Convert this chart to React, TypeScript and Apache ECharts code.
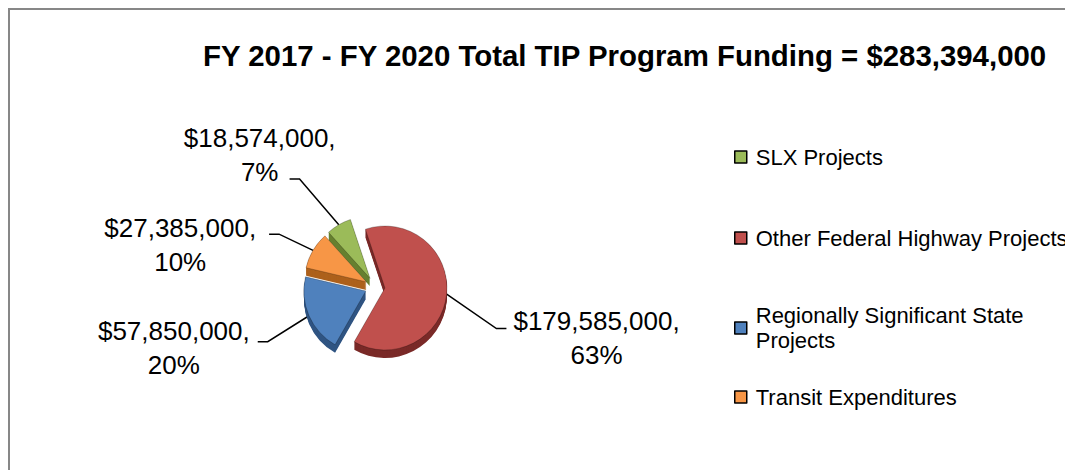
import React, { useEffect, useRef } from 'react';
import * as echarts from 'echarts';

const categories = [
  'SLX Projects',
  'Other Federal Highway Projects',
  'Regionally Significant State Projects',
  'Transit Expenditures',
];
const values = [18574000, 179585000, 57850000, 27385000];
const titleText = 'FY 2017 - FY 2020 Total TIP Program Funding = $283,394,000';
const legendLabels = [
  'SLX Projects',
  'Other Federal Highway Projects',
  'Regionally Significant State\nProjects',
  'Transit Expenditures',
];

const topColors = ['#9BBB59', '#C0504D', '#4F81BD', '#F79646'];
const sideColors = ['#66802f', '#7a2a28', '#2f5482', '#ad611c'];

const FONT = '"Liberation Sans", Arial, sans-serif';
const PIE_CENTER = [365, 277];
const PIE_RADIUS = 62;
const DEPTHS = [8, 7, 6, 5, 4, 3, 2, 1];
// per-slice label leader settings (green, red, blue, orange)
const leaderLen = [68, 45, 45, 22];
const leaderLen2 = [15, 15, 10, 25];
const labelDist = [-46, 7, 8, 13];
const labelPad = [
  [0, 0, 22, 0],
  [78, 0, 0, 0],
  [28, 0, 0, 0],
  [12, 0, 0, 0],
];
// vertical shift of the leader's horizontal end (Excel-style bent leader), per slice
const leaderDrop = [13, 30, 8, -5];
const legendTops = [136, 217, 293, 376];

export default function App() {
  const ref = useRef<HTMLDivElement>(null);
  useEffect(() => {
    const chart = echarts.init(ref.current!, null, { renderer: 'svg' });

    const depthSeries = DEPTHS.map((d) => ({
      type: 'pie',
      center: [PIE_CENTER[0], PIE_CENTER[1] + d],
      radius: PIE_RADIUS,
      startAngle: 132,
      clockwise: true,
      selectedMode: 'multiple',
      selectedOffset: 10,
      silent: true,
      avoidLabelOverlap: false,
      label: { show: false },
      labelLine: { show: false },
      emphasis: { disabled: true },
      data: categories.map((name, i) => ({
        name,
        value: values[i],
        selected: true,
        itemStyle: { color: sideColors[i] },
      })),
    }));

    const topSeries = {
      type: 'pie',
      center: PIE_CENTER,
      radius: PIE_RADIUS,
      startAngle: 132,
      clockwise: true,
      selectedMode: 'multiple',
      selectedOffset: 10,
      avoidLabelOverlap: false,
      labelLayout: (p: any) => {
        const drop = leaderDrop[p.dataIndex];
        const pts = p.labelLinePoints;
        if (!pts || pts.length < 3) return { hideOverlap: false };
        const sgn = pts[2][0] >= pts[1][0] ? 1 : -1;
        return {
          hideOverlap: false,
          labelLinePoints: [
            [pts[0][0], pts[0][1]],
            [pts[2][0] - sgn * 10, pts[2][1] + drop],
            [pts[2][0], pts[2][1] + drop],
          ],
        };
      },
      emphasis: { disabled: true },
      itemStyle: { borderColor: 'rgba(0,0,0,0.3)', borderWidth: 0.8 },
      label: {
        show: true,
        position: 'outside',
        fontSize: 26,
        lineHeight: 34,
        color: '#000',
        fontFamily: FONT,
        formatter: (p: any) =>
          '{c|$' + Number(p.value).toLocaleString('en-US') + ',}\n{c|' + Math.round(p.percent) + '%}',
        rich: {
          c: { align: 'center', fontSize: 26, lineHeight: 34, color: '#000', fontFamily: FONT },
        },
      },
      labelLine: {
        show: true,
        smooth: false,
        lineStyle: { color: '#000', width: 1.5 },
      },
      data: categories.map((name, i) => ({
        name,
        value: values[i],
        selected: true,
        itemStyle: { color: topColors[i] },
        label: { distanceToLabelLine: labelDist[i], padding: labelPad[i] },
        labelLine: { length: leaderLen[i], length2: leaderLen2[i] },
      })),
    };

    const legends = categories.map((name, i) => ({
      orient: 'vertical',
      left: 724,
      top: legendTops[i],
      padding: 0,
      itemWidth: 12,
      itemHeight: 12,
      icon: 'rect',
      selectedMode: false,
      formatter: () => legendLabels[i],
      textStyle: {
        fontSize: 22,
        color: '#000',
        fontFamily: FONT,
        lineHeight: i === 2 ? 25 : 22,
        padding: [0, 0, 0, 4],
      },
      data: [
        {
          name,
          itemStyle: { color: topColors[i], borderColor: '#000', borderWidth: 1.5 },
        },
      ],
    }));

    chart.setOption({
      animation: false,
      title: {
        text: titleText,
        left: 193,
        top: 31,
        padding: 0,
        textStyle: { fontSize: 29.4, fontWeight: 'bold', color: '#000', fontFamily: FONT },
      },
      legend: legends,
      series: [...depthSeries, topSeries],
    });
    return () => chart.dispose();
  }, []);

  return (
    <div
      style={{
        width: 1065,
        height: 462,
        borderLeft: '2px solid #878787',
        borderTop: '2px solid #878787',
        boxSizing: 'border-box',
      }}
    >
      <div ref={ref} style={{ width: 1063, height: 460 }} />
    </div>
  );
}
